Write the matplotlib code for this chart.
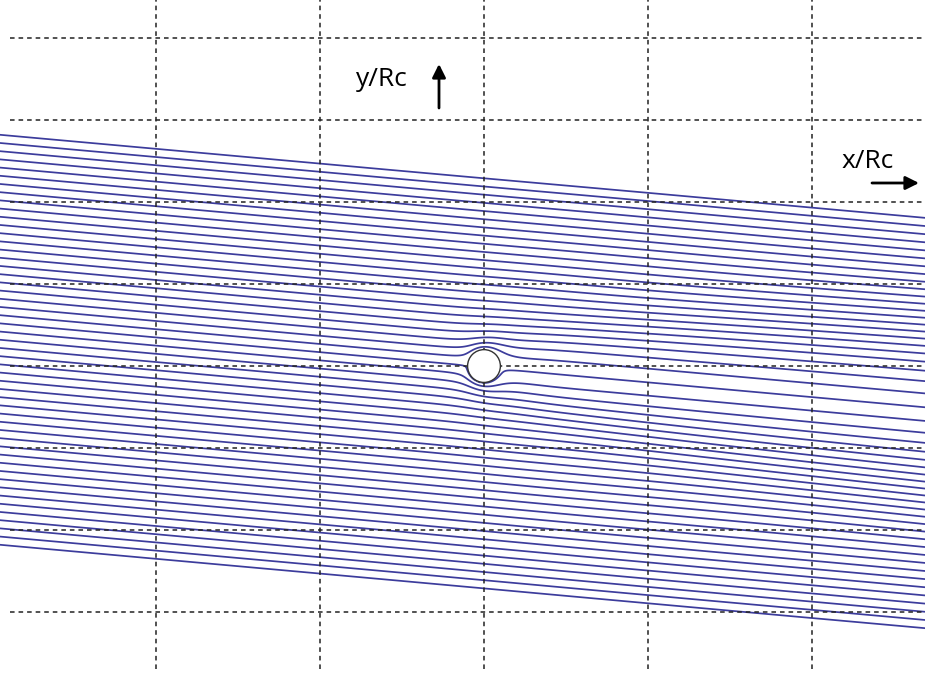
import numpy as np
import matplotlib
matplotlib.use("Agg")
import matplotlib.pyplot as plt
from matplotlib.patches import Circle

# Streamline inlet heights at the left edge (in units of the collector radius Rc)
y_left = [14.1, 13.6, 13.1, 12.6, 12.1, 11.6, 11.1, 10.6, 10.1, 9.6,
          9.1, 8.6, 8.1, 7.6, 7.1, 6.6, 6.1, 5.6, 5.1, 4.6,
          4.1, 3.6, 3.1, 2.6, 2.1, 1.6, 1.1, 0.6, 0.1, -0.4,
          -0.9, -1.4, -1.9, -2.4, -2.9, -3.4, -3.9, -4.4, -4.9, -5.4,
          -5.9, -6.4, -6.9, -7.4, -7.9, -8.4, -8.9, -9.4, -9.9, -10.4,
          -10.9]
x_left = -29.5

# Approach flow: downward slope of the free stream
flow_slope = -0.09
# Wake behind the collector: far-field centreline velocity deficit
wake_deficit = 0.42

# Grid positions (Rc)
x_grid = [-20, -10, 0, 10, 20]
y_grid = [-15, -10, -5, 0, 5, 10, 15, 20]

x_range = (-29.51, 26.89)
y_range = (-18.84, 22.32)

alpha = np.arctan(flow_slope)
ca, sa = np.cos(alpha), np.sin(alpha)


def stream_function(x, y):
    xi = x * ca + y * sa
    eta = -x * sa + y * ca
    r = np.sqrt(x ** 2 + y ** 2)
    # disturbance decays faster on the upstream side than in the wake
    n = 2.0 + 1.2 * (1.0 - xi / r)
    psi = eta * (1.0 - r ** (-n))
    ramp = 0.5 * (1.0 + np.tanh((xi - 2.0) / 2.0))
    xp = np.clip(xi, 0, None)
    w2 = 2.2 + 0.55 * xp
    psi = psi - wake_deficit * ramp * eta * np.exp(-eta ** 2 / w2)
    return psi


fig = plt.figure(figsize=(9.25, 6.75), dpi=100)
ax = fig.add_axes([0, 0, 1, 1])
ax.set_xlim(*x_range)
ax.set_ylim(*y_range)

xs = np.linspace(x_range[0] - 0.2, x_range[1] + 0.2, 1600)
ys = np.linspace(y_range[0] - 0.2, y_range[1] + 0.2, 1200)
X, Y = np.meshgrid(xs, ys)
with np.errstate(divide="ignore", invalid="ignore"):
    PSI = stream_function(X, Y)
PSI[X ** 2 + Y ** 2 < 1.0] = np.nan

levels = np.sort(stream_function(np.full(len(y_left), x_left), np.array(y_left)))
ax.contour(X, Y, PSI, levels=levels, colors="#3c3c9c", linewidths=1.25,
           linestyles="solid", zorder=2)

# collector
ax.add_patch(Circle((0, 0), 1.0, facecolor="white", edgecolor="#333333",
                    lw=1.0, zorder=5))

# dashed grid
W, H = 925.0, 675.0
grid_style = dict(color="#222222", lw=1.1, ls=(0, (3, 2.6)), zorder=3)
for gx in x_grid:
    ax.axvline(gx, ymin=6 / H, ymax=1.0, **grid_style)
for gy in y_grid:
    ax.axhline(gy, xmin=10 / W, xmax=1.0, **grid_style)
ax.set_xticks([])
ax.set_yticks([])
for s in ax.spines.values():
    s.set_visible(False)

fig.text(382 / W, 1 - 80 / H, "y/Rc", fontsize=19, family="Open Sans",
         ha="center", va="center")
fig.text(868 / W, 1 - 162 / H, "x/Rc", fontsize=19, family="Open Sans",
         ha="center", va="center")
ax.annotate("", xy=(439 / W, 1 - 64 / H), xytext=(439 / W, 1 - 108 / H),
            xycoords="figure fraction", textcoords="figure fraction",
            arrowprops=dict(arrowstyle="-|>", color="black", lw=2,
                            mutation_scale=20, shrinkA=0, shrinkB=0))
ax.annotate("", xy=(919 / W, 1 - 183 / H), xytext=(872 / W, 1 - 183 / H),
            xycoords="figure fraction", textcoords="figure fraction",
            arrowprops=dict(arrowstyle="-|>", color="black", lw=2,
                            mutation_scale=20, shrinkA=0, shrinkB=0))

fig.savefig("out.png", dpi=100)
